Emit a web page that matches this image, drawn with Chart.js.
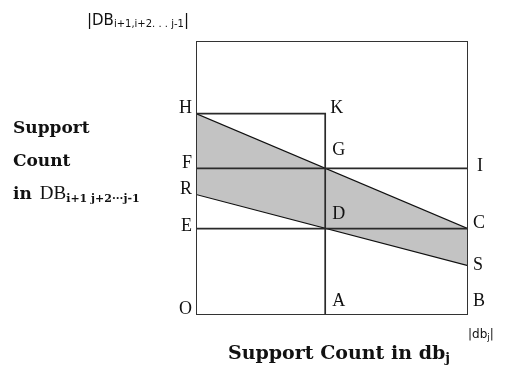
<!DOCTYPE html>
<html>
<head>
<meta charset="utf-8">
<script src="https://cdn.jsdelivr.net/npm/chart.js@4.4.1/dist/chart.umd.min.js"></script>
<style>
  html, body { margin: 0; padding: 0; background: #fff; }
  canvas { display: block; }
</style>
</head>
<body>
<canvas id="c" width="505" height="380"></canvas>
<script>
// Named points of the support-count diagram (x: count in db_j, y: count in DB_{i+1..j-1})
const pointNames = ['O', 'A', 'B', 'E', 'D', 'C', 'F', 'G', 'I', 'H', 'K', 'R', 'S'];
const pointX     = [0,   4.75, 10,  0,   4.75, 10,  0,   4.75, 10,  0,   4.75, 0,   10];
const pointY     = [0,   0,    0,   3.15, 3.15, 3.15, 5.35, 5.35, 5.35, 7.35, 7.35, 4.4, 1.8];

// Outer bounds: |db_j| on x, |DB_{i+1,i+2...j-1}| on y
const axisMaxX = 10;
const axisMaxY = 10;

// Polylines drawn through named points
const segments = [['H', 'K', 'A'], ['F', 'I'], ['E', 'C']];
// Shaded band between the two sloped lines
const bandUpper = ['H', 'C'];
const bandLower = ['R', 'S'];

const pt = name => {
  const i = pointNames.indexOf(name);
  return { x: pointX[i], y: pointY[i] };
};

const lineColor = '#2a2a2a';
const frameColor = '#333333';
const slopeColor = '#111111';
const bandFill = '#c3c3c3';

const datasets = [
  {
    label: 'frame',
    data: [{x: 0, y: 0}, {x: axisMaxX, y: 0}, {x: axisMaxX, y: axisMaxY}, {x: 0, y: axisMaxY}, {x: 0, y: 0}],
    borderColor: frameColor, borderWidth: 2
  },
  ...segments.map((s, k) => ({
    label: 'seg' + k,
    data: s.map(pt),
    borderColor: lineColor, borderWidth: 1.7
  })),
  {
    label: 'bandUpper',
    data: bandUpper.map(pt),
    borderColor: slopeColor, borderWidth: 1.1,
    fill: '+1', backgroundColor: bandFill
  },
  {
    label: 'bandLower',
    data: bandLower.map(pt),
    borderColor: slopeColor, borderWidth: 1.1
  }
].map(d => Object.assign({ showLine: true, pointRadius: 0, tension: 0, fill: false }, d));

// Placement of each point letter relative to its point (dx, dy, align)
const letterPlacement = {
  O: [-4, -6, 'right'], A: [7, -14, 'left'], B: [5, -14, 'left'],
  E: [-4, -2, 'right'], D: [7, -14, 'left'], C: [5, -5, 'left'],
  F: [-4, -5, 'right'], G: [7, -18, 'left'], I: [9, -2, 'left'],
  H: [-4, -5, 'right'], K: [5, -5, 'left'], R: [-4, -5, 'right'],
  S: [5, 0, 'left']
};

function drawRuns(ctx, x, y, runs, align) {
  let total = 0;
  runs.forEach(r => { ctx.font = r.font; r.w = ctx.measureText(r.t).width + (r.gap || 0); total += r.w; });
  let cx = align === 'center' ? x - total / 2 : (align === 'right' ? x - total : x);
  ctx.textAlign = 'left';
  runs.forEach(r => {
    ctx.font = r.font;
    ctx.fillText(r.t, cx, y + (r.dy || 0));
    cx += r.w;
  });
}

const textPlugin = {
  id: 'diagramText',
  afterDraw(chart) {
    const ctx = chart.ctx;
    const xs = chart.scales.x, ys = chart.scales.y;
    ctx.save();
    ctx.fillStyle = '#111';

    // Point letters
    ctx.font = '18px "Liberation Serif"';
    ctx.textBaseline = 'middle';
    pointNames.forEach(n => {
      const p = pt(n);
      const [dx, dy, al] = letterPlacement[n];
      ctx.textAlign = al;
      ctx.fillText(n, xs.getPixelForValue(p.x) + dx, ys.getPixelForValue(p.y) + dy);
    });

    ctx.textBaseline = 'alphabetic';
    // Top of the y range
    drawRuns(ctx, 87, 25, [
      { t: '|DB', font: '15px "DejaVu Sans"' },
      { t: 'i+1,i+2. . . j-1', font: '10px "DejaVu Sans"', dy: 2 },
      { t: '|', font: '15px "DejaVu Sans"' }
    ], 'left');

    // End of the x range
    drawRuns(ctx, 468, 338, [
      { t: '|db', font: '12px "DejaVu Sans"' },
      { t: 'j', font: '9px "DejaVu Sans"', dy: 2 },
      { t: '|', font: '12px "DejaVu Sans"' }
    ], 'left');

    // Y axis title
    const bold = 'bold 17px "DejaVu Serif"';
    drawRuns(ctx, 13, 133, [{ t: 'Support', font: bold }], 'left');
    drawRuns(ctx, 13, 166, [{ t: 'Count', font: bold }], 'left');
    drawRuns(ctx, 13, 199, [
      { t: 'in', font: bold, gap: 8 },
      { t: 'DB', font: '19px "Liberation Serif"' },
      { t: 'i+1 j+2···j-1', font: 'bold 11px "DejaVu Serif"', dy: 3 }
    ], 'left');

    // X axis title
    drawRuns(ctx, 228, 359, [
      { t: 'Support Count in db', font: 'bold 19px "DejaVu Serif"' },
      { t: 'j', font: 'bold 13px "DejaVu Serif"', dy: 3 }
    ], 'left');

    ctx.restore();
  }
};

new Chart(document.getElementById('c'), {
  type: 'scatter',
  data: { datasets },
  options: {
    responsive: false,
    animation: false,
    layout: { padding: { left: 196, right: 37, top: 41, bottom: 65 } },
    scales: {
      x: { type: 'linear', min: 0, max: axisMaxX, display: false },
      y: { type: 'linear', min: 0, max: axisMaxY, display: false }
    },
    plugins: {
      legend: { display: false },
      tooltip: { enabled: false },
      filler: { drawTime: 'beforeDatasetsDraw' }
    }
  },
  plugins: [textPlugin]
});
</script>
</body>
</html>
